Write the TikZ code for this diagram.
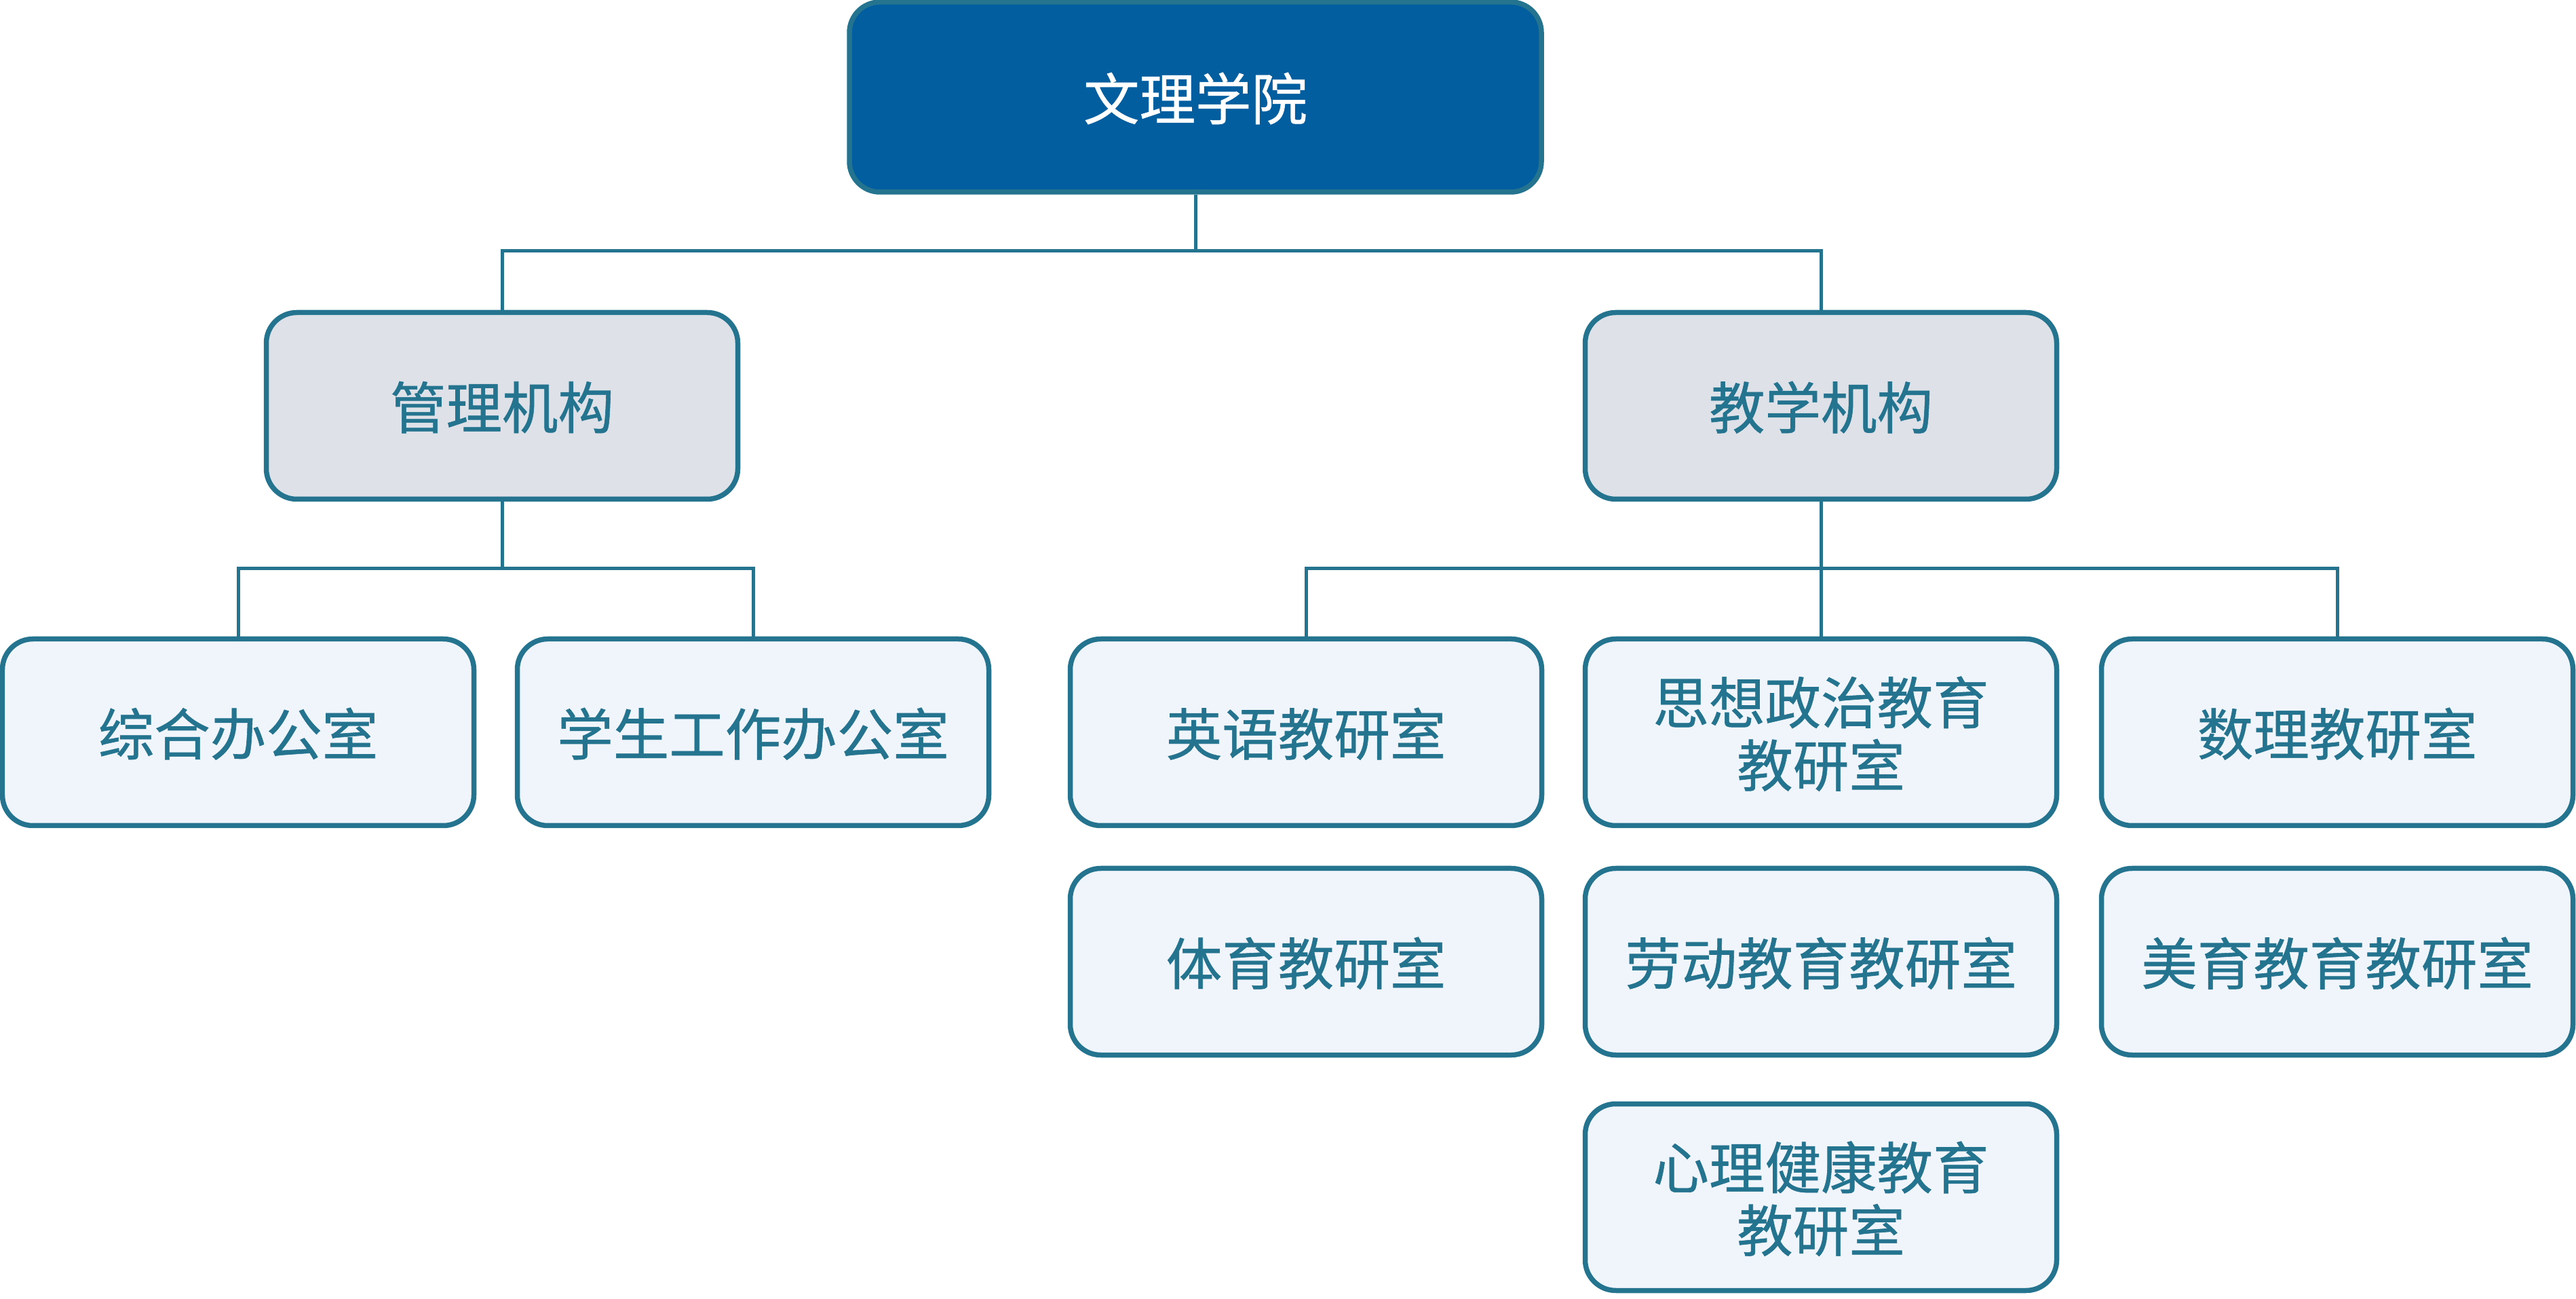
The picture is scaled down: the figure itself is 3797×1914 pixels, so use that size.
\documentclass[tikz,border=0pt]{standalone}
\usepackage{fontspec}
\setmainfont[FakeBold=0.7]{Noto Sans CJK SC}
\definecolor{edgeteal}{HTML}{24748F}
\definecolor{rootblue}{HTML}{035EA0}
\definecolor{midgray}{HTML}{DEE2E8}
\definecolor{leafblue}{HTML}{F0F4FB}
\tikzset{
  box/.style={draw=edgeteal, line width=1.5pt, rounded corners=9pt,
    minimum width=139pt, minimum height=55pt, align=center, text depth=0.5pt,
    text=edgeteal, font=\fontsize{16.5pt}{18.5pt}\selectfont},
  rootbox/.style={box, fill=rootblue, text=white, minimum width=204pt, minimum height=56pt},
  midbox/.style={box, fill=midgray},
  leafbox/.style={box, fill=leafblue},
  link/.style={draw=edgeteal, line width=1pt}
}
\begin{document}
\begin{tikzpicture}[x=0.2pt,y=-0.2pt]
  \useasboundingbox (0,0) rectangle (3797,1914);
  \coordinate (bus1) at (0,370);
  \coordinate (bus2) at (0,838);
  \node[rootbox] (root) at (1762,143) {文理学院};
  \node[midbox] (admin) at (740,598) {管理机构};
  \node[midbox] (teach) at (2684,598) {教学机构};
  \node[leafbox] (office) at (351,1079) {综合办公室};
  \node[leafbox] (student) at (1110,1079) {学生工作办公室};
  \node[leafbox] (english) at (1925,1079) {英语教研室};
  \node[leafbox] (politics) at (2684,1079) {思想政治教育\\教研室};
  \node[leafbox] (math) at (3445,1079) {数理教研室};
  \node[leafbox] (sport) at (1925,1417) {体育教研室};
  \node[leafbox] (labour) at (2684,1417) {劳动教育教研室};
  \node[leafbox] (art) at (3445,1417) {美育教育教研室};
  \node[leafbox] (mental) at (2684,1764) {心理健康教育\\教研室};
  \begin{scope}[link]
    \draw (root.south) -- (root.south |- bus1) -| (admin.north);
    \draw (root.south |- bus1) -| (teach.north);
    \draw (admin.south) -- (admin.south |- bus2) -| (office.north);
    \draw (admin.south |- bus2) -| (student.north);
    \draw (teach.south) -- (politics.north);
    \draw (teach.south |- bus2) -| (english.north);
    \draw (teach.south |- bus2) -| (math.north);
  \end{scope}
\end{tikzpicture}
\end{document}
